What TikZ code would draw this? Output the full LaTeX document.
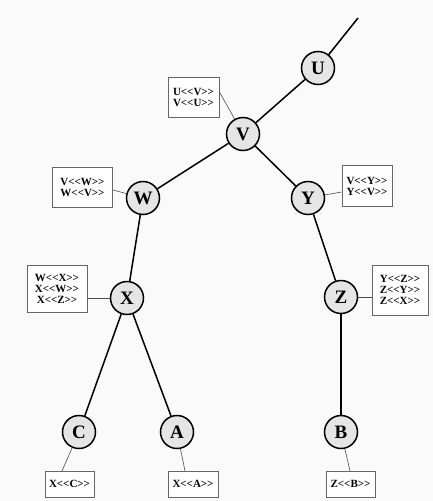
\documentclass[tikz,border=0pt]{standalone}
\usepackage{fontspec}
\setmainfont{Liberation Serif}
\begin{document}
\begin{tikzpicture}[x=1pt,y=-1pt,
  vtx/.style={circle,draw=black,line width=1.5pt,fill=gray!20,minimum size=33pt,inner sep=0pt,font=\fontsize{19}{19}\selectfont\bfseries},
  lbl/.style={draw=gray!80!black,line width=0.9pt,fill=white,inner sep=0pt,align=center,font=\fontsize{11}{11}\selectfont\bfseries},
  edge/.style={line width=1.5pt,black},
  tie/.style={line width=0.6pt,gray!60!black}]
\fill[gray!4] (0,0) rectangle (433,501);
\useasboundingbox (0,0) rectangle (433,501);
% vertices
\node[vtx] (U) at (318,68) {U};
\node[vtx] (V) at (243,134) {V};
\node[vtx] (W) at (143,198) {W};
\node[vtx] (Y) at (308,198) {Y};
\node[vtx] (X) at (127,298) {X};
\node[vtx] (Z) at (341,297) {Z};
\node[vtx] (C) at (79,432) {C};
\node[vtx] (A) at (177,432) {A};
\node[vtx] (B) at (341,432) {B};
\coordinate (top) at (358,18);
% edges
\draw[edge] (top) -- (U);
\draw[edge] (U) -- (V);
\draw[edge] (V) -- (W);
\draw[edge] (V) -- (Y);
\draw[edge] (W) -- (X);
\draw[edge] (Y) -- (Z);
\draw[edge] (X) -- (C);
\draw[edge] (X) -- (A);
\draw[edge] (Z) -- (B);
% label boxes
\node[lbl,minimum width=51pt,minimum height=40pt] (bU) at (193.5,97) {U<{}<V>{}>\\V<{}<U>{}>};
\node[lbl,minimum width=60pt,minimum height=40pt] (bW) at (82.5,187.5) {V<{}<W>{}>\\W<{}<V>{}>};
\node[lbl,minimum width=50pt,minimum height=41pt] (bY) at (367,186) {V<{}<Y>{}>\\Y<{}<V>{}>};
\node[lbl,minimum width=60pt,minimum height=47pt] (bX) at (57,288.5) {W<{}<X>{}>\\X<{}<W>{}>\\X<{}<Z>{}>};
\node[lbl,minimum width=56pt,minimum height=50pt] (bZ) at (400,290) {Y<{}<Z>{}>\\Z<{}<Y>{}>\\Z<{}<X>{}>};
\node[lbl,minimum width=49pt,minimum height=26pt] (bC) at (69.5,484) {X<{}<C>{}>};
\node[lbl,minimum width=50pt,minimum height=26pt] (bA) at (193,484) {X<{}<A>{}>};
\node[lbl,minimum width=49pt,minimum height=26pt] (bB) at (350.5,484) {Z<{}<B>{}>};
% ties
\draw[tie] (bU.east |- 0,92) -- (V);
\draw[tie] (bW.east |- 0,190) -- (W);
\draw[tie] (Y) -- (bY.west |- 0,192);
\draw[tie] (bX.east |- X) -- (X);
\draw[tie] (Z) -- (bZ.west |- Z);
\draw[tie] (C) -- (62,471);
\draw[tie] (A) -- (185,471);
\draw[tie] (B) -- (350,471);
\end{tikzpicture}
\end{document}
